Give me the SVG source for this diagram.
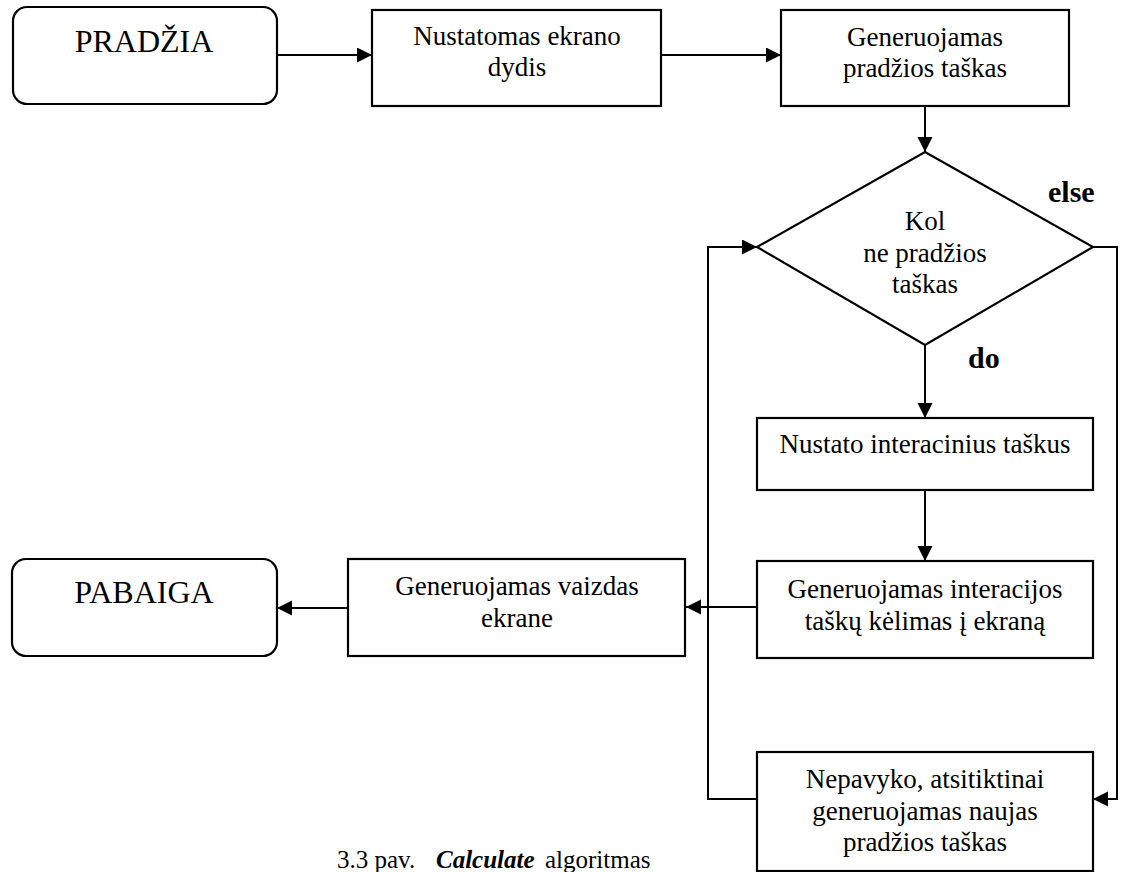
<svg xmlns="http://www.w3.org/2000/svg" width="1123" height="872" viewBox="0 0 1123 872">
<style>
.box{fill:#fff;stroke:#000;stroke-width:2.2}
.t{font-family:"Liberation Serif","Times New Roman",serif;font-size:27px;fill:#000;text-anchor:middle}
.big{font-size:32px}
.lbl{font-family:"Liberation Serif","Times New Roman",serif;font-size:30px;font-weight:bold;fill:#000}
.cap{font-family:"Liberation Serif","Times New Roman",serif;font-size:25px;fill:#000}
.c{fill:none;stroke:#000;stroke-width:2}
</style>
<defs>
<marker id="arr" markerUnits="userSpaceOnUse" markerWidth="16" markerHeight="16" refX="15" refY="7.5" orient="auto">
<path d="M0,0 L15,7.5 L0,15 z" fill="#000"/>
</marker>
</defs>
<rect width="1123" height="872" fill="#fff"/>
<g id="connectors">
<path class="c" d="M277,55 H372" marker-end="url(#arr)"/>
<path class="c" d="M661,55 H781" marker-end="url(#arr)"/>
<path class="c" d="M925,106 V152" marker-end="url(#arr)"/>
<path class="c" d="M925,345 V418" marker-end="url(#arr)"/>
<path class="c" d="M925,490 V561" marker-end="url(#arr)"/>
<path class="c" d="M757,607 H686" marker-end="url(#arr)"/>
<path class="c" d="M348,608 H277" marker-end="url(#arr)"/>
<path class="c" d="M1093,247 H1117 V799 H1093" marker-end="url(#arr)"/>
<path class="c" d="M757,799 H708 V247 H757" marker-end="url(#arr)"/>
</g>
<g id="start">
<rect class="box" x="13" y="7" width="264" height="97" rx="14"/>
<text class="t big" x="144" y="52">PRADŽIA</text>
</g>
<g id="screen-size">
<rect class="box" x="372" y="10" width="289" height="96"/>
<text class="t" x="517" y="45">Nustatomas ekrano</text>
<text class="t" x="517" y="76">dydis</text>
</g>
<g id="gen-start">
<rect class="box" x="781" y="10" width="288" height="96"/>
<text class="t" x="925" y="46">Generuojamas</text>
<text class="t" x="925" y="77">pradžios taškas</text>
</g>
<g id="decision">
<polygon class="box" points="925,152 1093,247 925,345 757,247"/>
<text class="t" x="925" y="230">Kol</text>
<text class="t" x="925" y="262">ne pradžios</text>
<text class="t" x="925" y="293">taškas</text>
</g>
<text class="lbl" x="1048" y="202">else</text>
<text class="lbl" x="968" y="368">do</text>
<g id="detect">
<rect class="box" x="757" y="418" width="336" height="72"/>
<text class="t" x="925" y="453">Nustato interacinius taškus</text>
</g>
<g id="move">
<rect class="box" x="757" y="561" width="336" height="97"/>
<text class="t" x="925" y="598">Generuojamas interacijos</text>
<text class="t" x="925" y="630">taškų kėlimas į ekraną</text>
</g>
<g id="render">
<rect class="box" x="348" y="559" width="337" height="97"/>
<text class="t" x="517" y="595">Generuojamas vaizdas</text>
<text class="t" x="517" y="627">ekrane</text>
</g>
<g id="end">
<rect class="box" x="12" y="559" width="265" height="97" rx="14"/>
<text class="t big" x="144" y="603">PABAIGA</text>
</g>
<g id="retry">
<rect class="box" x="757" y="752" width="336" height="119"/>
<text class="t" x="925" y="788">Nepavyko, atsitiktinai</text>
<text class="t" x="925" y="820">generuojamas naujas</text>
<text class="t" x="925" y="851">pradžios taškas</text>
</g>
<text class="cap" y="868"><tspan x="337">3.3 pav.</tspan><tspan x="436" font-weight="bold" font-style="italic">Calculate</tspan><tspan x="545">algoritmas</tspan></text>
</svg>
